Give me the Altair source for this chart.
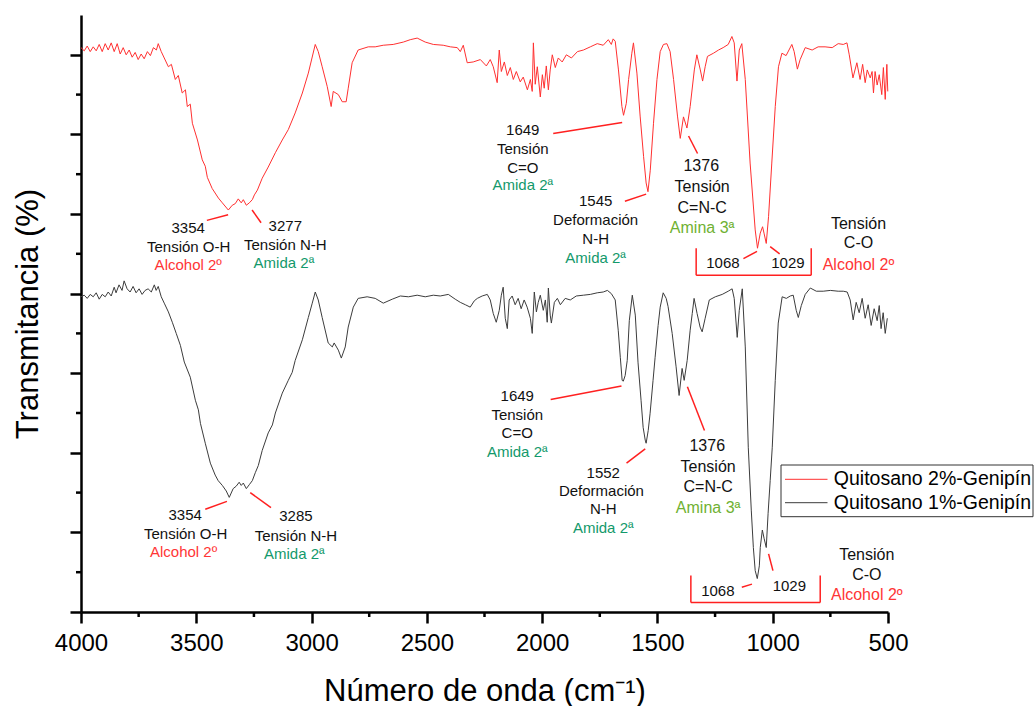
import altair as alt
import pandas as pd

# ---------------- data ----------------
series_names = ["Quitosano 2%-Genipín", "Quitosano 1%-Genipín"]
series_colors = ["#ff3030", "#3c3c3c"]

red_wn = [4000,3986,3973,3960,3947,3934,3921,3908,3895,3882,3869,3856,3843,3830,3817,3804,3791,3778,3765,3752,
          3739,3726,3712,3699,3686,3673,3665,3652,3639,3621,3608,3591,3578,3561,3547,3539,3526,3517,3495,3474,
          3461,3452,3431,3404,3387,3361,3344,3331,3318,3305,3296,3283,3270,3257,3248,3235,3214,3188,3157,3127,
          3101,3071,3040,3014,2984,2971,2954,2932,2915,2906,2884,2867,2850,2841,2824,2798,2754,2724,2689,2646,
          2602,2572,2542,2507,2472,2429,2398,2368,2355,2342,2325,2299,2268,2242,2225,2212,2195,2186,2177,2164,
          2151,2138,2125,2112,2095,2082,2064,2051,2043,2038,2030,2021,2008,1999,1991,1982,1973,1965,1956,1943,
          1930,1913,1895,1873,1847,1821,1791,1761,1735,1713,1700,1692,1683,1669,1654,1647,1635,1625,1611,1604,
          1589,1575,1560,1549,1541,1531,1517,1502,1488,1474,1459,1445,1430,1413,1401,1387,1372,1358,1340,1329,
          1314,1304,1293,1283,1257,1235,1215,1193,1177,1167,1155,1145,1134,1119,1098,1076,1066,1054,1044,1037,
          1028,1018,1004,989,975,960,942,917,907,893,881,859,829,803,773,742,716,694,678,668,
          652,635,621,610,599,590,577,569,563,556,547,538,527,520,512,505,501]
red_T = [70.9,70.5,71.1,70.4,71.0,70.5,71.3,70.4,71.4,70.6,71.5,70.4,71.4,70.1,70.9,70.0,70.6,69.7,70.3,69.4,
         70.1,69.5,70.4,69.9,70.9,70.6,71.4,70.4,69.6,68.5,68.8,66.9,67.4,65.2,65.6,63.5,63.8,61.4,59.3,56.8,
         56.0,54.6,53.2,52.0,51.4,50.5,51.1,51.3,51.9,51.4,51.8,51.1,51.4,51.8,52.4,53.0,54.5,55.9,57.7,59.3,
         60.6,62.7,65.2,67.7,71.3,70.4,68.5,66.0,63.5,65.4,65.0,64.1,64.1,65.8,69.0,70.6,71.0,71.0,71.2,71.3,
         71.6,71.9,72.1,71.6,71.3,71.2,71.0,70.9,70.4,71.2,69.0,69.1,69.4,68.6,69.4,68.5,66.5,70.6,67.9,69.1,
         67.4,68.4,66.9,67.9,66.6,67.2,65.6,66.9,65.4,71.5,66.3,68.5,64.7,67.5,65.8,68.6,65.6,68.1,70.0,68.4,
         69.6,69.1,70.0,69.6,70.4,70.6,71.0,71.4,71.2,71.9,71.3,72.0,71.7,68.1,63.5,62.4,63.9,66.9,70.2,71.5,
         67.7,62.3,57.2,53.9,52.8,55.5,61.4,66.9,70.4,71.3,71.4,70.4,66.9,62.3,59.5,62.2,60.8,63.5,68.1,70.0,
         68.1,66.7,68.5,69.8,70.2,70.6,70.9,71.3,72.3,71.5,66.7,70.6,71.4,66.9,56.4,48.0,45.7,47.6,48.4,47.5,
         46.3,49.7,56.4,63.5,68.5,70.2,69.9,71.3,70.4,68.2,69.4,70.9,70.6,71.0,71.0,70.9,71.4,71.3,71.5,70.0,
         67.1,69.0,66.9,68.8,66.5,68.1,67.1,67.9,65.2,67.9,66.2,67.5,65.0,68.4,64.4,68.8,65.4]

black_wn = [4000,3986,3973,3960,3947,3934,3921,3908,3895,3882,3869,3856,3848,3835,3822,3813,3800,3787,3774,3761,
            3748,3735,3722,3709,3695,3682,3674,3665,3652,3639,3621,3604,3587,3569,3552,3526,3504,3491,3482,3461,
            3439,3418,3405,3387,3370,3357,3340,3327,3314,3305,3296,3283,3270,3257,3244,3231,3214,3188,3170,3157,
            3127,3101,3084,3071,3040,3014,2997,2984,2971,2954,2928,2910,2902,2884,2871,2854,2841,2819,2798,2759,
            2724,2689,2650,2615,2580,2542,2507,2472,2442,2407,2377,2355,2333,2312,2294,2281,2260,2238,2225,2212,
            2199,2186,2177,2169,2160,2151,2143,2130,2117,2104,2091,2078,2065,2051,2043,2034,2025,2017,2008,1995,
            1986,1978,1973,1965,1960,1947,1934,1921,1900,1878,1852,1821,1791,1761,1735,1717,1700,1683,1670,1661,
            1653,1648,1640,1631,1622,1609,1596,1584,1571,1562,1553,1549,1540,1532,1519,1510,1497,1488,1475,1462,
            1454,1436,1419,1406,1393,1384,1371,1358,1349,1341,1328,1315,1306,1293,1275,1249,1219,1193,1176,1167,
            1154,1145,1132,1119,1106,1093,1084,1076,1067,1058,1054,1045,1037,1028,1020,1011,1002,989,976,959,
            941,924,911,898,889,876,859,837,811,781,750,716,694,677,664,651,638,625,612,599,
            586,573,560,547,538,530,521,512,503]
black_T = [39.6,39.8,39.4,39.9,39.6,40.1,39.3,39.9,39.6,40.2,39.7,40.8,40.1,41.1,40.4,41.6,40.6,40.2,40.9,40.1,
           40.6,39.9,40.4,40.6,40.2,41.1,40.4,40.9,39.6,38.8,37.7,36.4,35.0,33.5,31.4,29.5,26.6,25.4,23.7,21.2,
           18.7,17.2,16.5,15.9,15.2,14.4,15.5,15.8,16.3,15.9,16.2,15.5,16.0,16.5,17.5,18.4,20.3,22.5,23.5,25.0,
           27.5,29.1,30.1,31.6,34.2,37.0,38.8,40.2,39.2,37.0,33.8,33.3,33.8,32.9,31.9,33.3,35.8,38.3,39.4,39.6,
           39.4,38.8,39.3,39.7,39.6,39.8,39.6,39.8,39.7,39.9,39.3,38.9,38.6,38.3,39.1,39.4,39.7,39.9,39.2,37.5,
           36.4,37.9,39.8,40.8,36.9,35.6,39.2,39.7,38.6,39.4,38.1,39.2,38.3,36.9,35.0,40.2,37.7,38.9,39.8,37.9,
           39.2,36.4,40.7,37.3,36.3,38.9,39.4,38.6,39.4,39.2,39.7,39.8,39.9,40.1,40.2,40.4,40.0,39.2,35.4,32.0,
           29.1,29.0,29.7,31.6,36.6,39.8,37.3,31.3,26.6,23.2,21.6,21.2,22.8,24.9,29.1,32.0,36.0,38.3,40.1,39.4,
           38.4,35.0,30.8,27.2,30.6,29.1,31.6,35.4,37.5,39.4,37.5,35.8,35.2,36.9,39.2,39.6,39.9,40.3,40.6,39.4,
           34.5,37.9,40.6,33.3,20.7,12.8,8.1,5.2,4.2,5.8,8.1,10.3,9.2,8.1,12.4,16.5,20.7,29.1,36.3,39.6,
           39.4,39.7,39.8,37.9,37.0,38.5,39.9,40.7,40.3,40.3,40.4,40.3,40.3,40.2,39.2,36.7,38.9,37.6,39.4,36.9,
           38.6,36.0,38.1,36.6,38.5,35.6,37.6,35.0,36.9]

x_major = [4000, 3500, 3000, 2500, 2000, 1500, 1000, 500]
x_minor = [3750, 3250, 2750, 2250, 1750, 1250, 750]
y_major = [0, 10, 20, 30, 40, 50, 60, 70]
y_minor = [5, 15, 25, 35, 45, 55, 65]

# annotation lines of text: wavenumber, transmittance, text, kind, big font
ann_text = ["3354", "Tensión O-H", "Alcohol 2º", "3277", "Tensión N-H", "Amida 2ª",
            "1649", "Tensión", "C=O", "Amida 2ª",
            "1545", "Deformación", "N-H", "Amida 2ª",
            "1376", "Tensión", "C=N-C", "Amina 3ª",
            "1068", "1029", "Tensión", "C-O", "Alcohol 2º",
            "3354", "Tensión O-H", "Alcohol 2º", "3285", "Tensión N-H", "Amida 2ª",
            "1649", "Tensión", "C=O", "Amida 2ª",
            "1552", "Deformación", "N-H", "Amida 2ª",
            "1376", "Tensión", "C=N-C", "Amina 3ª",
            "1068", "1029", "Tensión", "C-O", "Alcohol 2º"]
ann_wn = [3535, 3533, 3535, 3114, 3114, 3120,
          2084, 2084, 2084, 2084,
          1768, 1768, 1768, 1768,
          1310, 1306, 1306, 1306,
          1216, 934, 628, 628, 628,
          3548, 3546, 3555, 3068, 3068, 3075,
          2108, 2108, 2108, 2108,
          1735, 1743, 1735, 1735,
          1284, 1280, 1280, 1280,
          1238, 928, 592, 592, 592]
ann_T = [48.3, 45.9, 43.6, 48.5, 46.1, 43.8,
         60.6, 58.2, 55.8, 53.6,
         51.6, 49.2, 46.8, 44.5,
         56.0, 53.4, 50.7, 48.2,
         43.8, 43.9, 48.8, 46.3, 43.6,
         12.2, 9.8, 7.5, 12.0, 9.6, 7.3,
         27.1, 24.8, 22.5, 20.1,
         17.5, 15.2, 12.9, 10.5,
         20.9, 18.2, 15.7, 13.1,
         2.7, 3.3, 7.2, 4.6, 2.1]
ann_kind = ["txt", "txt", "alcohol", "txt", "txt", "amida",
            "txt", "txt", "txt", "amida",
            "txt", "txt", "txt", "amida",
            "txt", "txt", "txt", "amina",
            "txt", "txt", "txt", "txt", "alcohol",
            "txt", "txt", "alcohol", "txt", "txt", "amida",
            "txt", "txt", "txt", "amida",
            "txt", "txt", "txt", "amida",
            "txt", "txt", "txt", "amina",
            "txt", "txt", "txt", "txt", "alcohol"]
ann_big = [0, 0, 0, 0, 0, 0,
           0, 0, 0, 0,
           0, 0, 0, 0,
           1, 1, 1, 1,
           0, 0, 1, 1, 1,
           0, 0, 0, 0, 0, 0,
           0, 0, 0, 0,
           0, 0, 0, 0,
           1, 1, 1, 1,
           0, 0, 1, 1, 1]

# leader lines and brackets (wavenumber / transmittance end points)
seg_x1 = [3454, 3258, 1952, 1641, 1365, 1127, 1011, 1332, 1332, 833,
          3461, 3266, 1963, 1634, 1370, 1134, 1018, 1355, 1355, 794]
seg_y1 = [49.2, 50.5, 60.1, 51.6, 59.8, 44.4, 45.9, 45.7, 42.3, 42.3,
          12.9, 15.0, 26.7, 18.7, 28.3, 3.1, 7.3, 4.6, 1.2, 1.2]
seg_x2 = [3362, 3219, 1653, 1549, 1326, 1068, 970, 1332, 833, 833,
          3367, 3176, 1656, 1553, 1296, 1090, 999, 1355, 794, 794]
seg_y2 = [49.9, 48.9, 61.5, 52.5, 57.6, 45.3, 45.0, 42.3, 42.3, 45.7,
          13.9, 13.1, 28.4, 20.5, 22.8, 3.5, 5.2, 1.2, 1.2, 4.6]

# ---------------- chart ----------------
FONT = "Liberation Sans"
W, H = 807, 597

rows = []
for name, wns, ts in [(series_names[1], black_wn, black_T), (series_names[0], red_wn, red_T)]:
    for i, (w, t) in enumerate(zip(wns, ts)):
        rows.append({"series": name, "wn": w, "T": t, "idx": i})
spec_df = pd.DataFrame(rows)

xscale = alt.Scale(domain=[500, 4000], reverse=True, nice=False, zero=False)
yscale = alt.Scale(domain=[0, 75], nice=False, zero=False)

x_axis = alt.Axis(values=x_major, format="d", title="Número de onda (cm⁻¹)",
                  labelFontSize=24, labelFont=FONT, labelColor="black", labelPadding=8,
                  labelFlush=False, labelOverlap=False, labelBound=False,
                  tickSize=11, tickWidth=2.5, tickColor="black",
                  domainColor="black", domainWidth=2.5, grid=False,
                  titleFont=FONT, titleFontSize=31, titleFontWeight="normal", titleColor="black",
                  titleBaseline="top", titleY=64, titleX=W / 2)
y_axis = alt.Axis(values=y_major, labels=False, title="Transmitancia (%)",
                  tickSize=11, tickWidth=2.5, tickColor="black",
                  domainColor="black", domainWidth=2.5, grid=False,
                  titleFont=FONT, titleFontSize=31, titleFontWeight="normal", titleColor="black",
                  titleBaseline="alphabetic", titleX=-44, titleY=H / 2, titleAngle=270)

lines = alt.Chart(spec_df).mark_line(strokeWidth=1).encode(
    x=alt.X("wn:Q", scale=xscale, axis=x_axis),
    y=alt.Y("T:Q", scale=yscale, axis=y_axis),
    color=alt.Color("series:N", scale=alt.Scale(domain=series_names, range=series_colors), legend=None),
    order=alt.Order("idx:Q"),
)

xminor = alt.Chart(pd.DataFrame({"v": x_minor})).mark_rule(color="black", strokeWidth=2.5).encode(
    x=alt.X("v:Q", scale=xscale, axis=x_axis), y=alt.value(H), y2=alt.value(H + 5))
yminor = alt.Chart(pd.DataFrame({"v": y_minor})).mark_rule(color="black", strokeWidth=2.5).encode(
    y=alt.Y("v:Q", scale=yscale, axis=y_axis), x=alt.value(-5), x2=alt.value(0))

seg_df = pd.DataFrame({"x1": seg_x1, "y1": seg_y1, "x2": seg_x2, "y2": seg_y2})
segs = alt.Chart(seg_df).mark_rule(color="#ff2020", strokeWidth=1.5).encode(
    x=alt.X("x1:Q", scale=xscale, axis=x_axis), x2="x2:Q",
    y=alt.Y("y1:Q", scale=yscale, axis=y_axis), y2="y2:Q")

ann_df = pd.DataFrame({"wn": ann_wn, "T": ann_T, "text": ann_text, "kind": ann_kind, "big": ann_big})
kind_scale = alt.Scale(domain=["txt", "alcohol", "amida", "amina"],
                       range=["#111111", "#ff3535", "#13996b", "#6fb132"])

def ann_layer(big, size):
    return alt.Chart(ann_df).transform_filter(f"datum.big == {big}").mark_text(
        fontSize=size, font=FONT, align="center", baseline="middle").encode(
        x=alt.X("wn:Q", scale=xscale, axis=x_axis),
        y=alt.Y("T:Q", scale=yscale, axis=y_axis),
        text="text:N",
        color=alt.Color("kind:N", scale=kind_scale, legend=None))

ann_small = ann_layer(0, 15)
ann_big_l = ann_layer(1, 16)

# legend (drawn by hand, at the lower right of the plot)
one = pd.DataFrame({"a": [0]})
leg_box = alt.Chart(one).mark_rect(fill="white", stroke="#333333", strokeWidth=1).encode(
    x=alt.value(700), x2=alt.value(952), y=alt.value(450), y2=alt.value(501.7))
leg_l1 = alt.Chart(one).mark_rule(color=series_colors[0], strokeWidth=1).encode(
    x=alt.value(704), x2=alt.value(746.5), y=alt.value(464.3))
leg_l2 = alt.Chart(one).mark_rule(color=series_colors[1], strokeWidth=1).encode(
    x=alt.value(704), x2=alt.value(746.5), y=alt.value(487.7))
leg_t1 = alt.Chart(one).mark_text(fontSize=19.5, font=FONT, align="left", baseline="middle", color="black").encode(
    x=alt.value(752.8), y=alt.value(464.3), text=alt.value(series_names[0]))
leg_t2 = alt.Chart(one).mark_text(fontSize=19.5, font=FONT, align="left", baseline="middle", color="black").encode(
    x=alt.value(752.8), y=alt.value(487.7), text=alt.value(series_names[1]))

chart = alt.layer(lines, xminor, yminor, segs, ann_small, ann_big_l,
                  leg_box, leg_l1, leg_l2, leg_t1, leg_t2).resolve_scale(
    color="independent"
).properties(
    width=W, height=H,
    autosize=alt.AutoSizeParams(type="none"),
    padding={"left": 81, "top": 15, "right": 147, "bottom": 94},
    background="white",
).configure_view(stroke=None)

chart.save("out.html", embed_options={"renderer": "svg", "actions": False})
